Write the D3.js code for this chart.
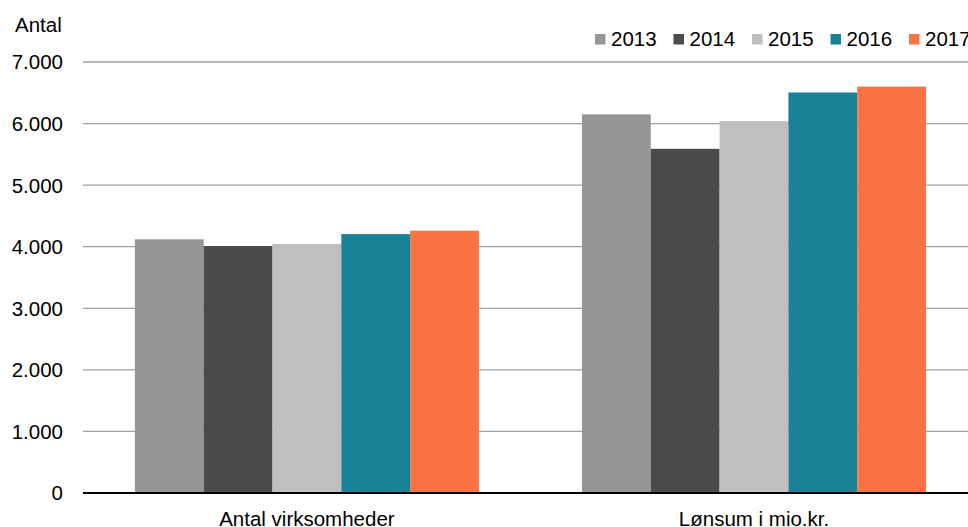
<!DOCTYPE html>
<html>
<head>
<meta charset="utf-8">
<script src="https://cdn.jsdelivr.net/npm/d3@7"></script>
<style>
  body { margin: 0; background: #fff; }
  svg { display: block; font-family: "Liberation Sans", Arial, sans-serif; }
</style>
</head>
<body>
<svg></svg>
<script>
// data
var categories = ['Antal virksomheder', 'Lønsum i mio.kr.'];
var years = ['2013', '2014', '2015', '2016', '2017'];
var values2013 = [4120, 6150];
var values2014 = [4010, 5590];
var values2015 = [4045, 6040];
var values2016 = [4205, 6505];
var values2017 = [4260, 6600];
var yTicks = [0, 1000, 2000, 3000, 4000, 5000, 6000, 7000];
var colors = ['#969696', '#4b4b4b', '#bfbfbf', '#1a8296', '#f97442'];

var series = [values2013, values2014, values2015, values2016, values2017];

var width = 968;
var height = 527;
var fontSize = '20.5px';

var svg = d3.select('svg')
  .attr('width', width)
  .attr('height', height);

var x0 = d3.scaleBand()
  .domain(categories)
  .range([83.35, 977.55])
  .paddingInner(0.2304)
  .paddingOuter(0.1152);

var x1 = d3.scaleBand()
  .domain(years)
  .range([0, x0.bandwidth()]);

var y = d3.scaleLinear()
  .domain([0, 7000])
  .range([493, 62]);

var fmt = d3.formatLocale({decimal: ',', thousands: '.', grouping: [3], currency: ['', '']}).format(',d');

// gridlines
svg.append('g')
  .selectAll('line')
  .data(yTicks.filter(d => d > 0))
  .enter()
  .append('line')
  .attr('x1', 83)
  .attr('x2', width)
  .attr('y1', d => y(d))
  .attr('y2', d => y(d))
  .attr('stroke', '#a0a0a0')
  .attr('stroke-width', 1.3);

// y labels
svg.append('g')
  .selectAll('text')
  .data(yTicks)
  .enter()
  .append('text')
  .attr('x', 63)
  .attr('y', d => y(d))
  .attr('dy', '0.36em')
  .attr('text-anchor', 'end')
  .style('font-size', fontSize)
  .attr('fill', '#000')
  .text(d => fmt(d));

svg.append('text')
  .attr('x', 15)
  .attr('y', 31.5)
  .style('font-size', fontSize)
  .text('Antal');

// bars
var rows = categories.map((c, i) => ({
  cat: c,
  vals: years.map((yr, j) => ({year: yr, value: series[j][i], color: colors[j]}))
}));

svg.append('g')
  .selectAll('g')
  .data(rows)
  .enter()
  .append('g')
  .attr('transform', d => 'translate(' + x0(d.cat) + ',0)')
  .selectAll('rect')
  .data(d => d.vals)
  .enter()
  .append('rect')
  .attr('x', d => x1(d.year))
  .attr('width', x1.bandwidth())
  .attr('y', d => y(d.value))
  .attr('height', d => y(0) - y(d.value))
  .attr('fill', d => d.color);

// zero axis
svg.append('line')
  .attr('x1', 83)
  .attr('x2', width)
  .attr('y1', y(0))
  .attr('y2', y(0))
  .attr('stroke', '#000')
  .attr('stroke-width', 2);

// category labels
svg.append('g')
  .selectAll('text')
  .data(categories)
  .enter()
  .append('text')
  .attr('x', d => x0(d) + x0.bandwidth() / 2)
  .attr('y', 525.5)
  .attr('text-anchor', 'middle')
  .style('font-size', fontSize)
  .text(d => d);

// legend
var legend = svg.append('g')
  .selectAll('g')
  .data(years)
  .enter()
  .append('g')
  .attr('transform', (d, i) => 'translate(' + (595 + i * 78.5) + ',0)');

legend.append('rect')
  .attr('x', 0)
  .attr('y', 34)
  .attr('width', 10.5)
  .attr('height', 10.5)
  .attr('fill', (d, i) => colors[i]);

legend.append('text')
  .attr('x', 16)
  .attr('y', 46)
  .style('font-size', fontSize)
  .text(d => d);
</script>
</body>
</html>
